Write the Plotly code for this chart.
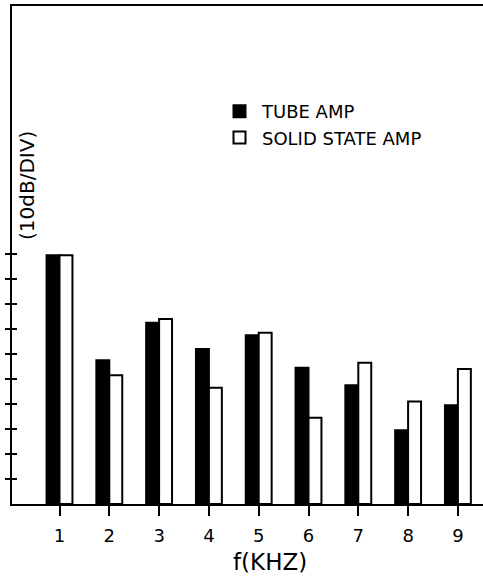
import plotly.graph_objects as go

freq_khz = [1, 2, 3, 4, 5, 6, 7, 8, 9]
tube_amp = [9.95, 5.75, 7.25, 6.2, 6.75, 5.45, 4.75, 2.95, 3.95]
solid_state_amp = [9.95, 5.15, 7.4, 4.65, 6.85, 3.45, 5.65, 4.1, 5.4]
y_ticks = [1, 2, 3, 4, 5, 6, 7, 8, 9, 10]
x_tick_labels = ["1", "2", "3", "4", "5", "6", "7", "8", "9"]

FONT = "DejaVu Sans"
W, H = 500, 580          # plot area runs past the 483px window edge, as in the reference
L, R, T, B = 12, 0, 6, 76
plot_w = W - L - R
plot_h = H - T - B
px_per_cat = 49.8
x0 = 1 - (59.5 - L) / px_per_cat
x1 = x0 + plot_w / px_per_cat
y_top = plot_h / 25.0

fig = go.Figure()
fig.add_trace(go.Bar(
    x=freq_khz, y=tube_amp, name="TUBE AMP",
    marker=dict(color="black", line=dict(color="black", width=2)),
))
fig.add_trace(go.Bar(
    x=freq_khz, y=solid_state_amp, name="SOLID STATE AMP",
    marker=dict(color="white", line=dict(color="black", width=2)),
))
# invisible helper trace so the overlaid axis (inner half of the cross ticks) is drawn
fig.add_trace(go.Scatter(
    x=freq_khz, y=tube_amp, yaxis="y2", mode="markers",
    marker=dict(opacity=0), showlegend=False, hoverinfo="skip",
))

fig.update_layout(
    width=W, height=H,
    margin=dict(l=L, r=R, t=T, b=B, pad=0),
    paper_bgcolor="white", plot_bgcolor="white",
    barmode="group", bargap=0.48, bargroupgap=0,
    font=dict(family=FONT, color="black"),
    showlegend=True,
    legend=dict(
        x=(217 - L) / plot_w, y=1 - (93 - T) / plot_h,
        xanchor="left", yanchor="top", itemwidth=35,
        font=dict(size=18, family=FONT, color="black"),
        bgcolor="rgba(0,0,0,0)", borderwidth=0, traceorder="normal",
    ),
    xaxis=dict(
        range=[x0, x1], tickmode="array", tickvals=freq_khz, ticktext=x_tick_labels,
        showline=True, linecolor="black", linewidth=2, mirror=True,
        ticks="outside", ticklen=10, tickwidth=2, tickcolor="black",
        ticklabelstandoff=4,
        tickfont=dict(size=18, family=FONT, color="black"),
        showgrid=False, zeroline=False,
    ),
    yaxis=dict(
        range=[0, y_top], tickmode="array", tickvals=y_ticks, showticklabels=False,
        showline=True, linecolor="black", linewidth=2,
        ticks="outside", ticklen=5, tickwidth=2, tickcolor="black",
        showgrid=False, zeroline=False,
    ),
    yaxis2=dict(
        overlaying="y", side="left", anchor="x", range=[0, y_top],
        tickmode="array", tickvals=y_ticks, showticklabels=False,
        ticks="inside", ticklen=5, tickwidth=2, tickcolor="black",
        showline=False, showgrid=False, zeroline=False,
    ),
)

fig.add_annotation(
    text="f(KHZ)", xref="paper", yref="paper",
    x=(270 - L) / plot_w, y=-(562 - (H - B)) / plot_h,
    xanchor="center", yanchor="middle", showarrow=False,
    font=dict(size=23, family=FONT, color="black"),
)
fig.add_annotation(
    text="(10dB/DIV)", xref="paper", yref="paper",
    x=(27 - L) / plot_w, y=1 - (186 - T) / plot_h,
    xanchor="center", yanchor="middle", showarrow=False, textangle=-90,
    font=dict(size=20, family=FONT, color="black"),
)

fig.write_html(
    "out.html",
    config={"displayModeBar": False},
    post_script="document.body.style.margin='0px';document.body.style.padding='0px';"
                "document.body.style.overflow='hidden';document.documentElement.style.overflow='hidden';",
)
